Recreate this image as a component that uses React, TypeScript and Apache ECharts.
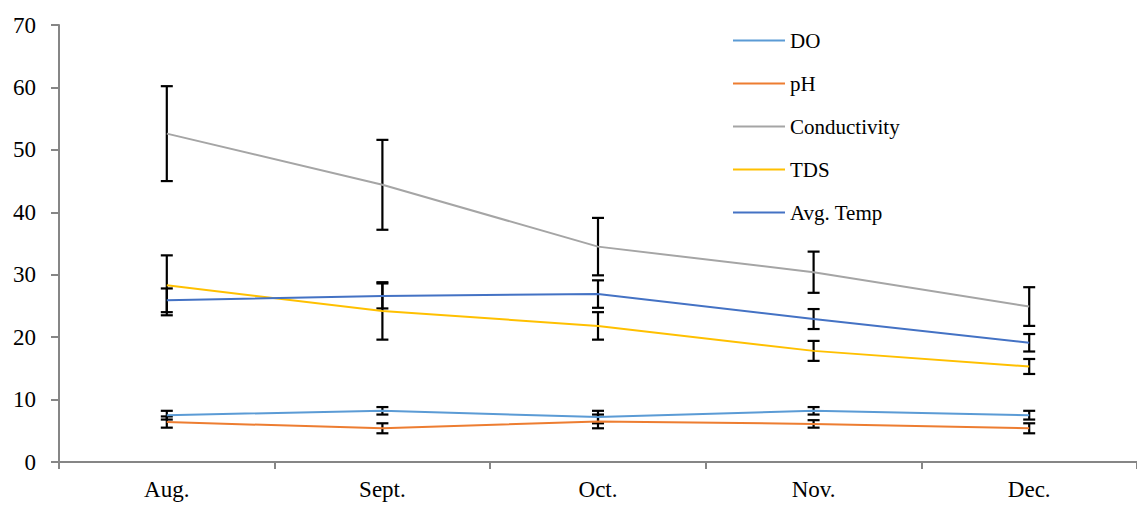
import React, { useEffect, useRef } from "react";
import * as echarts from "echarts";

const categories = ["Aug.", "Sept.", "Oct.", "Nov.", "Dec."];
const yTicks = { min: 0, max: 70, interval: 10 };

const seriesNames = ["DO", "pH", "Conductivity", "TDS", "Avg. Temp"];
const doValues = [7.5, 8.2, 7.2, 8.2, 7.5];
const doErrors = [0.7, 0.6, 1.0, 0.6, 0.7];
const phValues = [6.4, 5.4, 6.5, 6.1, 5.4];
const phErrors = [0.9, 0.8, 1.1, 0.6, 0.8];
const condValues = [52.6, 44.4, 34.5, 30.4, 24.9];
const condErrors = [7.6, 7.2, 4.6, 3.3, 3.1];
const tdsValues = [28.3, 24.2, 21.8, 17.8, 15.3];
const tdsErrors = [4.8, 4.6, 2.2, 1.6, 1.2];
const tempValues = [25.9, 26.6, 26.9, 22.9, 19.1];
const tempErrors = [1.9, 2.0, 2.2, 1.6, 1.4];

const colors = ["#5B9BD5", "#ED7D31", "#A5A5A5", "#FFC000", "#4472C4"];

const FONT = '"Liberation Serif", "Times New Roman", serif';

export default function App() {
  const ref = useRef<HTMLDivElement>(null);

  useEffect(() => {
    if (!ref.current) return;
    const chart = echarts.init(ref.current, null, { renderer: "svg" });
    const values = [doValues, phValues, condValues, tdsValues, tempValues];
    const errors = [doErrors, phErrors, condErrors, tdsErrors, tempErrors];

    const lineSeries = seriesNames.map((name, k) => ({
      name,
      type: "line",
      data: values[k],
      symbol: "none",
      showSymbol: false,
      z: 3,
      lineStyle: { color: colors[k], width: 2 },
      itemStyle: { color: colors[k] },
    }));

    const errSeries = seriesNames.map((name, k) => ({
      name: name + " error",
      type: "custom",
      z: 2,
      data: categories.map((_, i) => [i, values[k][i], errors[k][i]]),
      encode: { x: 0, y: 1 },
      renderItem: (params: any, api: any) => {
        const x = api.value(0);
        const v = api.value(1);
        const e = api.value(2);
        const top = api.coord([x, v + e]);
        const bot = api.coord([x, v - e]);
        const hw = 6;
        const style = { stroke: "#000", lineWidth: 2.2 };
        return {
          type: "group",
          children: [
            { type: "line", shape: { x1: top[0], y1: top[1], x2: bot[0], y2: bot[1] }, style },
            { type: "line", shape: { x1: top[0] - hw, y1: top[1], x2: top[0] + hw, y2: top[1] }, style },
            { type: "line", shape: { x1: bot[0] - hw, y1: bot[1], x2: bot[0] + hw, y2: bot[1] }, style },
          ],
        };
      },
    }));

    chart.setOption({
      animation: false,
      backgroundColor: "#fff",
      textStyle: { fontFamily: FONT },
      grid: { left: 59, right: 0, top: 25, bottom: 44, containLabel: false },
      legend: {
        data: seriesNames,
        orient: "vertical",
        left: 733,
        top: 30,
        padding: 0,
        itemWidth: 52,
        itemHeight: 20,
        itemGap: 22,
        icon: "path://M0,9 L52,9 L52,11 L0,11 Z",
        textStyle: { fontFamily: FONT, fontSize: 21, color: "#000", lineHeight: 21 },
      },
      xAxis: {
        type: "category",
        data: categories,
        boundaryGap: true,
        axisLine: { lineStyle: { color: "#868686", width: 2 } },
        axisTick: { show: true, length: 7, lineStyle: { color: "#868686", width: 2 } },
        axisLabel: { fontFamily: FONT, fontSize: 23, color: "#000", margin: 16 },
        splitLine: { show: false },
      },
      yAxis: {
        type: "value",
        min: yTicks.min,
        max: yTicks.max,
        interval: yTicks.interval,
        axisLine: { show: true, lineStyle: { color: "#868686", width: 2 } },
        axisTick: { show: true, length: 8, lineStyle: { color: "#868686", width: 2 } },
        axisLabel: { fontFamily: FONT, fontSize: 23, color: "#000", margin: 23 },
        splitLine: { show: false },
      },
      series: [...errSeries, ...lineSeries],
    });
    return () => chart.dispose();
  }, []);

  return (
    <div
      ref={ref}
      style={{ position: "fixed", left: 0, top: 0, width: 1137, height: 506, background: "#fff" }}
    />
  );
}
